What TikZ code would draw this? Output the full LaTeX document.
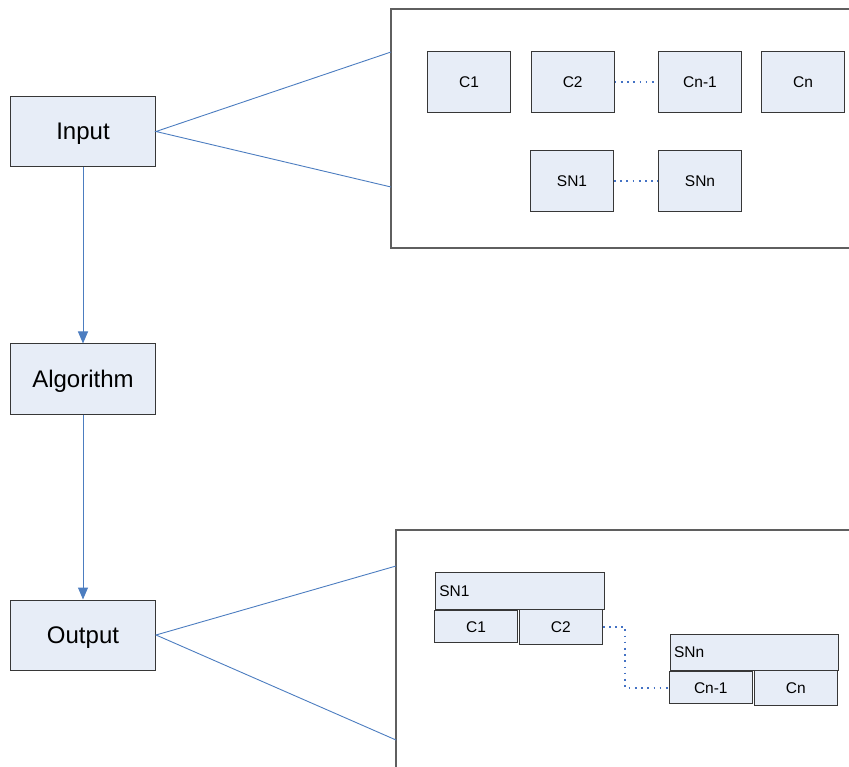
\documentclass[tikz,border=0pt]{standalone}
\usepackage{fontspec}
\setmainfont{Liberation Sans}
\usetikzlibrary{arrows.meta}

\definecolor{boxfill}{RGB}{231,237,247}
\definecolor{boxedge}{RGB}{55,55,55}
\definecolor{frameedge}{RGB}{95,95,95}
\definecolor{linkblue}{RGB}{76,125,192}
\definecolor{dotblue}{RGB}{68,114,196}

\tikzset{
  stage/.style={draw=boxedge, line width=1pt, fill=boxfill, minimum width=145pt,
    minimum height=70pt, inner sep=0pt, text height=17pt, text depth=0pt,
    font=\fontsize{24}{27}\selectfont},
  cell/.style={draw=boxedge, line width=1pt, fill=boxfill, inner sep=0pt,
    text height=11pt, text depth=0pt, font=\fontsize{15.5}{18}\selectfont},
  band/.style={cell, align=left, inner sep=4pt},
  frame/.style={draw=frameedge, line width=1.3pt, fill=white},
  fan/.style={draw=linkblue, line width=0.9pt},
  flow/.style={draw=linkblue, line width=1pt, -{Triangle[width=10pt,length=12pt]}},
  dotlink/.style={draw=dotblue, line width=1.7pt, dash pattern=on 1.7pt off 4.5pt}
}

\begin{document}
\begin{tikzpicture}[x=1pt,y=-1pt]
\useasboundingbox (0,0) rectangle (849,767);
\begin{scope}
\clip (0,0) rectangle (849,767);

% containers on the right (they run past the page edge)
\draw[frame] (391,9) rectangle (900,248);
\draw[frame] (396,530) rectangle (900,800);

% main stages
\node[stage] (input) at (83,131.5) {Input};
\node[stage] (algo)  at (83,379)   {Algorithm};
\node[stage] (output) at (83,635)  {Output};

\draw[flow] (input.south) -- (algo.north);
\draw[flow] (algo.south) -- (output.north);

% fans to the containers
\coordinate (inTop) at (391,52);
\coordinate (inBot) at (391,187);
\coordinate (outTop) at (396,566);
\coordinate (outBot) at (396,740);
\draw[fan] (inTop) -- (input.east) -- (inBot);
\draw[fan] (outTop) -- (output.east) -- (outBot);

% input content
\node[cell, minimum width=83pt, minimum height=61pt] (c1)  at (469,81.7)  {C1};
\node[cell, minimum width=83pt, minimum height=61pt] (c2)  at (572.7,81.7) {C2};
\node[cell, minimum width=83pt, minimum height=61pt] (cn1) at (700,81.7)  {Cn-1};
\node[cell, minimum width=83pt, minimum height=61pt] (cn)  at (803,81.7)  {Cn};
\node[cell, minimum width=83pt, minimum height=61pt] (sn1) at (572,181)   {SN1};
\node[cell, minimum width=83pt, minimum height=61pt] (snn) at (700,181)   {SNn};
\draw[dotlink] (c2.east) -- (cn1.west);
\draw[dotlink] (sn1.east) -- (snn.west);

% output content
\node[band, text width=160.7pt, minimum height=36.7pt] (osn1) at (519.7,590.7) {SN1};
\node[cell, minimum width=83.4pt, minimum height=32pt] (oc1) at (476,626.7) {C1};
\node[cell, minimum width=83pt, minimum height=35pt] (oc2) at (560.8,626.8) {C2};
\node[band, text width=160.3pt, minimum height=36.3pt] (osnn) at (754.2,652.2) {SNn};
\node[cell, minimum width=83pt, minimum height=32pt] (ocn1) at (710.8,687.7) {Cn-1};
\node[cell, minimum width=83pt, minimum height=34.6pt] (ocn) at (795.8,688) {Cn};
\draw[dotlink] (oc2.east) -- ++(22.3,0) |- (ocn1.west);
\end{scope}
\end{tikzpicture}
\end{document}
